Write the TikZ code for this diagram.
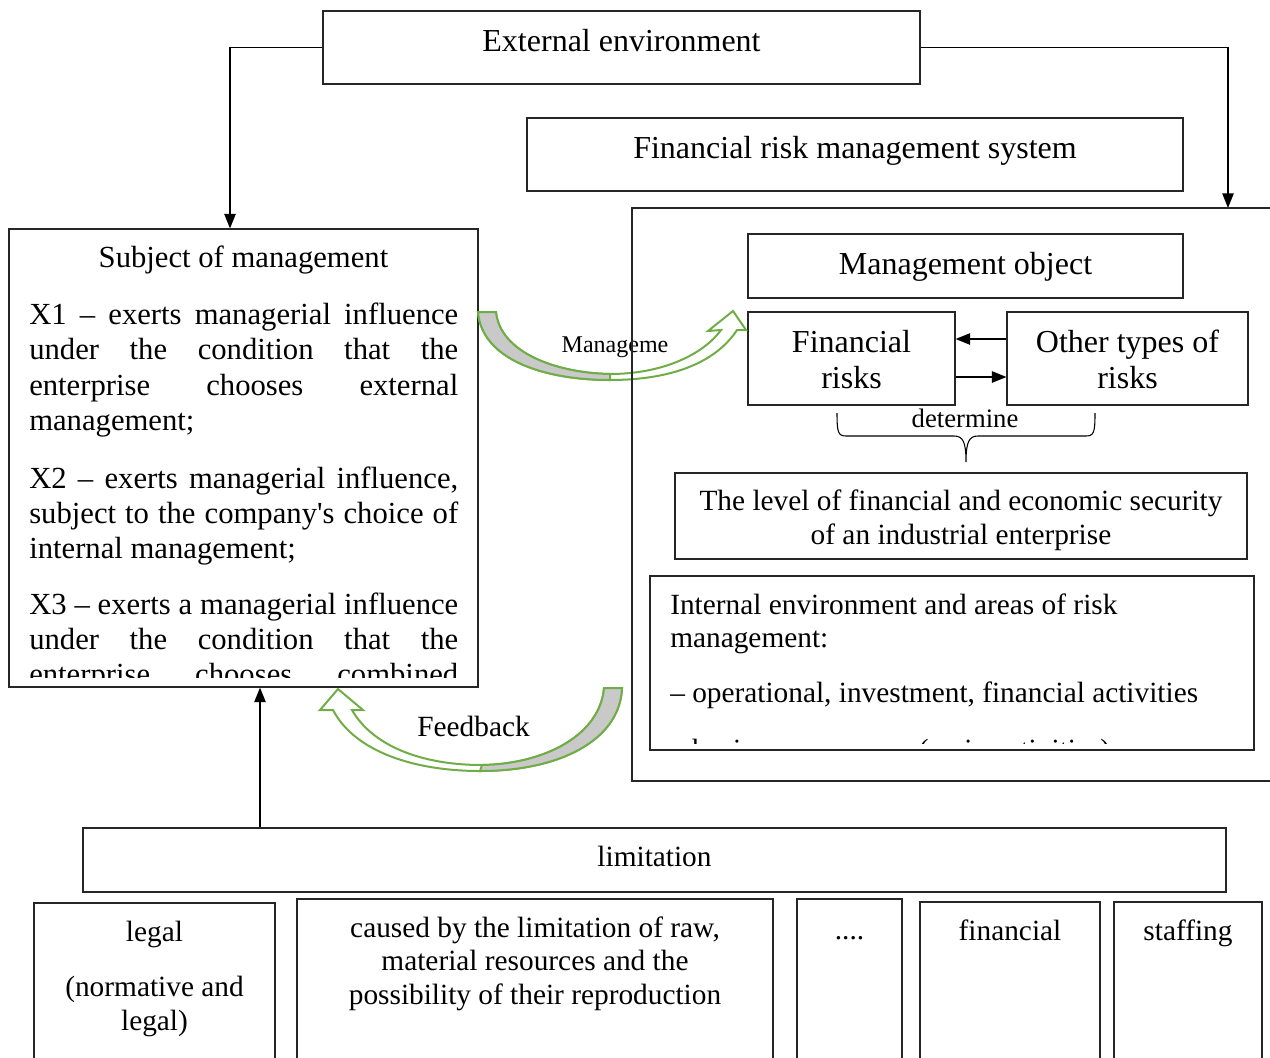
\documentclass[tikz,border=0pt]{standalone}
\usepackage{fontspec}
\setmainfont{Liberation Serif}
\usetikzlibrary{arrows.meta,fit}
\definecolor{arrowgreen}{HTML}{70AD47}
\definecolor{undergray}{HTML}{C9C9C9}
\newcommand\szH{\fontsize{24}{28}\selectfont}
\newcommand\szS{\fontsize{23}{27}\selectfont}
\newcommand\szB{\fontsize{22}{26}\selectfont}
\newcommand\jline[1]{\makebox[321.75pt][s]{#1}}

\begin{document}
\begin{tikzpicture}[x=0.75pt,y=-0.75pt,
  box/.style={draw=black!85,line width=0.8pt,inner sep=0pt},
  conn/.style={line width=1.4pt,-{Triangle[length=11pt,width=8.5pt]}},
  lbl/.style={inner sep=0pt,anchor=base},
  lblw/.style={inner sep=0pt,anchor=base west},
  bendarrow/.style={draw=arrowgreen,line width=1.5pt,fill=white,line join=miter},
  bendshade/.style={fill=undergray,draw=arrowgreen,line width=1.5pt,line join=miter}
]
\useasboundingbox (0,0) rectangle (1270,1057);

% ---------- boxes ----------
\node[box,fit={(323,11) (920,84)}] (ext) {};
\node[box,fit={(527,118) (1183,191)}] (frms) {};
\node[box,fit={(9,229) (478,687)}] (subj) {};
\node[box,fit={(748,234) (1183,298)}] (mobj) {};
\node[box,fit={(748,312) (955,405)}] (fin) {};
\node[box,fit={(1007,312) (1248,405)}] (oth) {};
\node[box,fit={(675,473) (1247,559)}] (level) {};
\node[box,fit={(650,576) (1254,750)}] (intenv) {};
\node[box,fit={(83,828) (1226,892)}] (lim) {};
\node[box,fit={(34,903) (275,1075)}] (b1) {};
\node[box,fit={(297,899) (773,1075)}] (b2) {};
\node[box,fit={(797,899) (902,1075)}] (b3) {};
\node[box,fit={(920,902) (1100,1075)}] (b4) {};
\node[box,fit={(1114,902) (1262,1075)}] (b5) {};

% ---------- texts ----------
\node[lbl,font=\szH] (t-ext) at (621.5,51) {External environment};
\node[lbl,font=\szH] (t-frms) at (855,158) {Financial risk management system};
\node[lbl,font=\szS] (t-subj) at (243.5,267) {Subject of management};

\begin{scope}[font=\szS]
  \node[lblw] (x1a) at (29,324) {\jline{X1 – exerts managerial influence}};
  \node[lblw] (x1b) at (29,359) {\jline{under the condition that the}};
  \node[lblw] (x1c) at (29,395) {\jline{enterprise chooses external}};
  \node[lblw] (x1d) at (29,430) {management;};
  \node[lblw] (x2a) at (29,488) {\jline{X2 – exerts managerial influence,}};
  \node[lblw] (x2b) at (29,523) {\jline{subject to the company\textquotesingle s choice of}};
  \node[lblw] (x2c) at (29,558) {internal management;};
  \node[lblw] (x3a) at (29,614) {\jline{X3 – exerts a managerial influence}};
  \node[lblw] (x3b) at (29,649) {\jline{under the condition that the}};
  \begin{scope}
    \clip (10,600) rectangle (477,677);
    \node[lblw] (x3c) at (29,684) {\jline{enterprise chooses combined}};
  \end{scope}
\end{scope}

\node[lbl,font=\szH] (t-mobj) at (965.5,274) {Management object};
\node[lbl,font=\szH] (t-fin1) at (851.5,352) {Financial};
\node[lbl,font=\szH] (t-fin2) at (851.5,388) {risks};
\node[lbl,font=\szH] (t-oth1) at (1127.5,352) {Other types of};
\node[lbl,font=\szH] (t-oth2) at (1127.5,388) {risks};
\node[lbl,font=\fontsize{20}{24}\selectfont] (t-det) at (965,427) {determine};

\node[lbl,font=\szB] (t-lev1) at (961,510) {The level of financial and economic security};
\node[lbl,font=\szB] (t-lev2) at (961,544) {of an industrial enterprise};

\node[lblw,font=\szB] (t-int1) at (670,614) {Internal environment and areas of risk};
\node[lblw,font=\szB] (t-int2) at (670,647) {management:};
\node[lblw,font=\szB] (t-int3) at (670,702) {– operational, investment, financial activities};
\begin{scope}
  \clip (651,705) rectangle (1253,743);
  \node[lblw,font=\szB] (t-int4) at (670,759) {– business processes (main activities)};
\end{scope}

\node[lbl,font=\szB] (t-lim) at (654.5,866) {limitation};
\node[lbl,font=\szB] (t-b1a) at (154.5,941) {legal};
\node[lbl,font=\szB] (t-b1b) at (154.5,996) {(normative and};
\node[lbl,font=\szB] (t-b1c) at (154.5,1030) {legal)};
\node[lbl,font=\szB] (t-b2a) at (535,937) {caused by the limitation of raw,};
\node[lbl,font=\szB] (t-b2b) at (535,970) {material resources and the};
\node[lbl,font=\szB] (t-b2c) at (535,1004) {possibility of their reproduction};
\node[lbl,font=\szB] (t-b3) at (849.5,939) {....};
\node[lbl,font=\szB] (t-b4) at (1010,940) {financial};
\node[lbl,font=\szB] (t-b5) at (1188,940) {staffing};

% ---------- connectors ----------
\coordinate (xl) at (230,0);
\coordinate (xa) at (260,0);
\coordinate (frametop) at (1228,208);
\coordinate (ya) at (0,339);
\coordinate (yb) at (0,377);
\draw[conn] (ext.west) -| (subj.north -| xl);
\draw[conn,line width=1pt] (ext.east) -| (frametop);
\draw[conn] (lim.north -| xa) -- (subj.south -| xa);
\draw[conn] (oth.west |- ya) -- (fin.east |- ya);
\draw[conn] (fin.east |- yb) -- (oth.west |- yb);

% brace under the two risk boxes
\coordinate (brL) at (837,413);
\coordinate (brR) at (1095,413);
\coordinate (brT) at (966,462);
\draw[line width=0.8pt] (brL) .. controls (837,432) and (838,436) .. (846,436)
  -- (954,436) .. controls (963,436) and (966,442) .. (brT)
  .. controls (966,442) and (969,436) .. (978,436)
  -- (1086,436) .. controls (1094,436) and (1095,432) .. (brR);

% ---------- curved block arrows ----------
% management influence
\draw[bendarrow] (478,312) -- (496,312) .. controls (500,352) and (555,373) .. (610,374)
  .. controls (660,374) and (702,356) .. (721,330) -- (708,331) -- (733,311)
  -- (746,330) -- (737,330) .. controls (714,365) and (667,380) .. (610,380)
  .. controls (545,380) and (482,360) .. (478,312) -- cycle;
\draw[bendshade] (478,312) -- (496,312) .. controls (500,352) and (555,373) .. (610,374)
  -- (610,380) .. controls (545,380) and (482,360) .. (478,312) -- cycle;
\node[lbl,font=\fontsize{18}{22}\selectfont] (t-man) at (615,352) {Manageme};

% feedback
\draw[bendarrow] (622,688) -- (604,688) .. controls (600,735) and (545,764) .. (482,765)
  .. controls (420,765) and (372,745) .. (352,710) -- (363,710) -- (338,689)
  -- (320,710) -- (333,710) .. controls (355,752) and (415,771) .. (480,771)
  .. controls (560,771) and (620,740) .. (622,688) -- cycle;
\draw[bendshade] (622,688) -- (604,688) .. controls (600,735) and (545,764) .. (482,765)
  -- (480,771) .. controls (560,771) and (620,740) .. (622,688) -- cycle;
\node[lbl,font=\szB] (t-fb) at (473.5,736) {Feedback};

% open frame of the risk management system, drawn over the arrow
\draw[line width=0.8pt,draw=black!85] (1275,208) -- (632,208) -- (632,781) -- (1275,781);

\end{tikzpicture}
\end{document}
